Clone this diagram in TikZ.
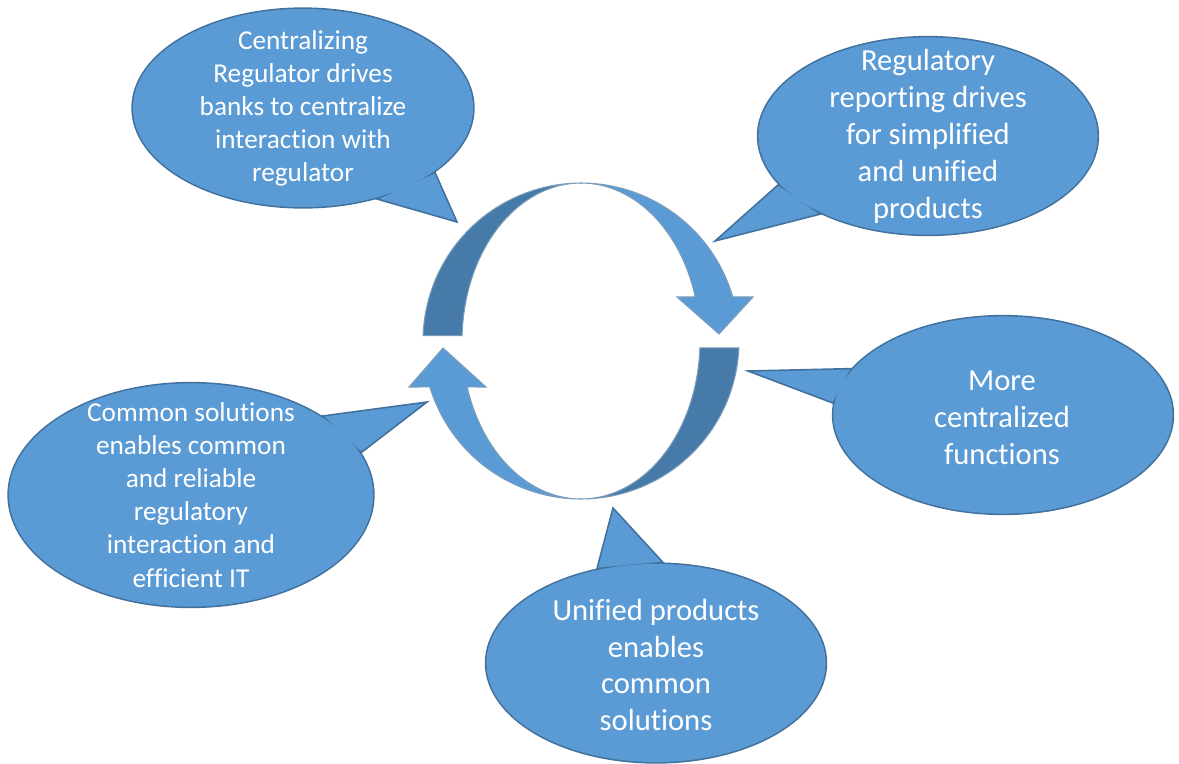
\documentclass[tikz,border=0pt]{standalone}
\usepackage{fontspec}
\setmainfont{Carlito}[Ligatures=NoCommon]
\usetikzlibrary{shapes.geometric}
\definecolor{bubbleblue}{HTML}{5B9BD5}
\definecolor{bubbleedge}{HTML}{41719C}
\definecolor{ringdark}{HTML}{467AA9}

\begin{document}
\begin{tikzpicture}[x=0.01cm, y=-0.01cm,
  bubble/.style={ellipse, draw=bubbleedge, line width=0.9pt, fill=bubbleblue, inner sep=0pt,
    minimum width=3.39cm, minimum height=1.97cm},
  bubblefill/.style={bubble, draw=none},
  tail/.style={fill=bubbleblue, draw=bubbleedge, line width=0.45pt, line join=miter},
  smalltxt/.style={text=white, align=center, font=\fontsize{7.75}{9.4}\selectfont},
  largetxt/.style={text=white, align=center, font=\fontsize{8.7}{10.5}\selectfont},
  ring/.style={draw=bubbleedge!70, line width=0.3pt}]
\useasboundingbox (0,0) rectangle (1179,763);

% ring, back faces
\filldraw[ring, fill=ringdark] plot[domain=178:90, samples=40] ({581+158*cos(\x)}, {341-158*sin(\x)})
  -- plot[domain=90:178, samples=40] ({581+119*cos(\x)}, {341-158*sin(\x)}) -- cycle;
\filldraw[ring, fill=ringdark] plot[domain=-2.5:-90, samples=40] ({581+158*cos(\x)}, {341-158*sin(\x)})
  -- plot[domain=-90:-2.5, samples=40] ({581+119*cos(\x)}, {341-158*sin(\x)}) -- cycle;
% ring, front arrows
\filldraw[ring, fill=bubbleblue] plot[domain=90:16.2, samples=40] ({581+158*cos(\x)}, {341-158*sin(\x)})
  -- (753,297) -- (719,334) -- (677,297)
  -- plot[domain=16.2:90, samples=40] ({581+119*cos(\x)}, {341-158*sin(\x)}) -- cycle;
\filldraw[ring, fill=bubbleblue] plot[domain=-90:-163.1, samples=40] ({581+158*cos(\x)}, {341-158*sin(\x)})
  -- (409,387) -- (443,348) -- (486,387)
  -- plot[domain=-163.1:-90, samples=40] ({581+119*cos(\x)}, {341-158*sin(\x)}) -- cycle;

% top left
\node[bubble, minimum width=3.40cm, minimum height=1.98cm] (central) at (303,108) {};
\coordinate (tcentral) at (457,222);
\filldraw[tail] (central.-26) -- (tcentral) -- (central.-51) -- cycle;
\node[bubblefill, minimum width=3.40cm, minimum height=1.98cm] (centralfill) at (central) {};
\node[smalltxt] (centraltxt) at (central) {Centralizing\\Regulator drives\\banks to centralize\\interaction with\\regulator};

% top right
\node[bubble] (reporting) at (928,136) {};
\coordinate (treporting) at (715,241);
\filldraw[tail] (reporting.198) -- (treporting) -- (reporting.216) -- cycle;
\node[bubblefill] (reportingfill) at (reporting) {};
\node[largetxt] (reportingtxt) at (reporting) {Regulatory\\reporting drives\\for simplified\\and unified\\products};

% right
\node[bubble] (functions) at (1003,415) {};
\coordinate (tfunctions) at (748,371);
\filldraw[tail] (functions.163) -- (tfunctions) -- (functions.176) -- cycle;
\node[bubblefill] (functionsfill) at (functions) {};
\node[largetxt] (functionstxt) at (1002,418) {More\\centralized\\functions};

% bottom
\node[bubble, minimum height=1.98cm] (unified) at (656,663) {};
\coordinate (tunified) at (613,508);
\filldraw[tail] (unified.122) -- (tunified) -- (unified.86.5) -- cycle;
\node[bubblefill, minimum height=1.98cm] (unifiedfill) at (unified) {};
\node[largetxt] (unifiedtxt) at (656,665) {Unified products\\enables\\common\\solutions};

% left
\node[bubble, minimum width=3.64cm, minimum height=2.23cm] (common) at (191,495) {};
\coordinate (tcommon) at (427,402);
\filldraw[tail] (common.31) -- (tcommon) -- (common.14) -- cycle;
\node[bubblefill, minimum width=3.64cm, minimum height=2.23cm] (commonfill) at (common) {};
\node[smalltxt] (commontxt) at (common) {Common solutions\\enables common\\and reliable\\regulatory\\interaction and\\efficient IT};
\end{tikzpicture}
\end{document}
